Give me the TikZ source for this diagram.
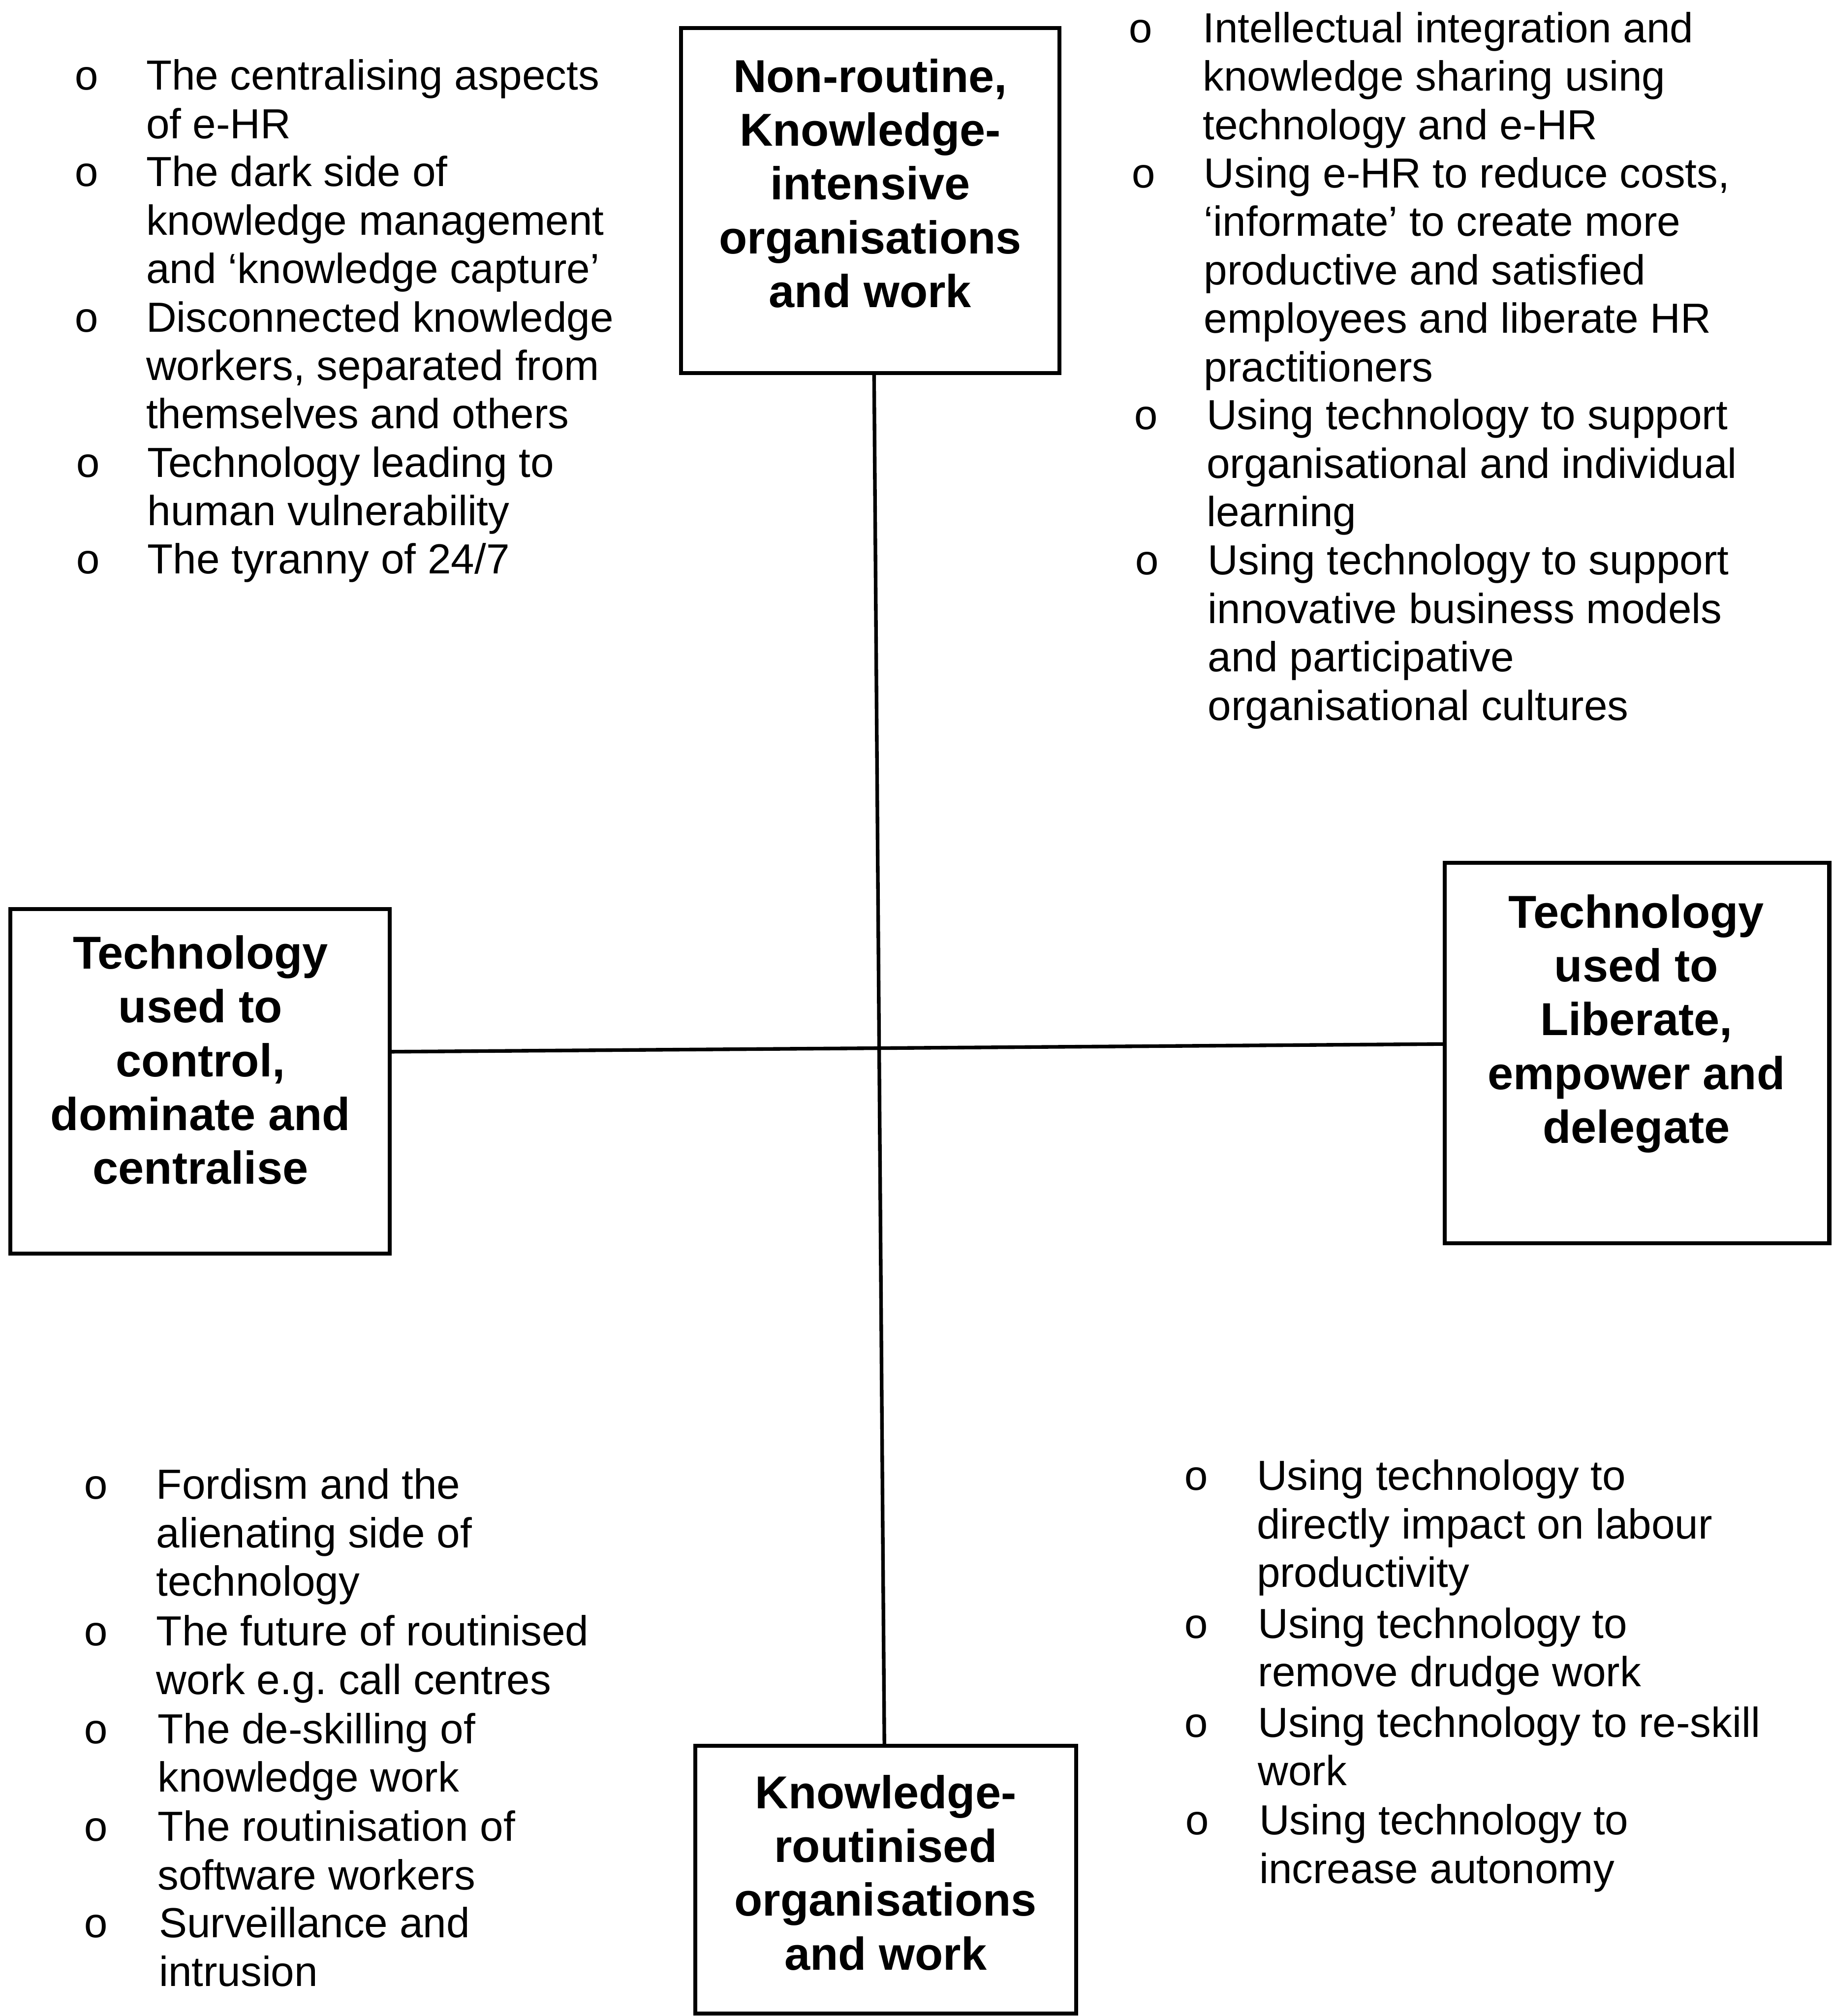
\documentclass[tikz,border=0pt]{standalone}
\usepackage{fontspec}
\setmainfont{Liberation Sans}
\newfontfamily\bulletfont{Liberation Mono}
\usetikzlibrary{calc}
\frenchspacing

\tikzset{
  box/.style={draw, line width=0.9pt, inner sep=0pt},
  boxtext/.style={font=\fontsize{10.2}{11.9}\selectfont\bfseries, align=center, anchor=base, inner sep=0pt},
  itm/.style={font=\fontsize{9.3}{10.72}\selectfont, align=left, anchor=base west, inner sep=0pt},
  bul/.style={font=\fontsize{9.3}{10.72}\selectfont\bulletfont, anchor=base west, inner sep=0pt},
  link/.style={line width=0.8pt},
}

% one bullet point: name, bullet x, text x, first baseline y, text, number of lines
% (a multi-line node's base anchor sits on its last line)
\newcommand\bitem[6]{%
  \node[bul] (#1b) at (#2,#4) {o};
  \node[itm] (#1) at ({#3},{#4+(#6-1)*37.7}) {#5};
}

\begin{document}
\begin{tikzpicture}[x=0.01cm,y=-0.01cm]
\useasboundingbox (0,0) rectangle (1425,1568);

% the four category boxes
\node[box, minimum width=2.94cm, minimum height=2.68cm] (top) at (677,156) {};
\node[box, minimum width=2.95cm, minimum height=2.68cm] (left) at (155.5,841) {};
\node[box, minimum width=2.99cm, minimum height=2.96cm] (right) at (1273.5,819) {};
\node[box, minimum width=2.96cm, minimum height=2.08cm] (bottom) at (689,1462) {};

% box captions, placed by the baseline of their last line
\node[boxtext] (toptxt) at (677,239) {Non-routine,\\Knowledge-\\intensive\\organisations\\and work};
\node[boxtext] (lefttxt) at (156,921) {Technology\\used to\\control,\\dominate and\\centralise};
\node[boxtext] (righttxt) at (1273,889) {Technology\\used to\\Liberate,\\empower and\\delegate};
\node[boxtext] (bottomtxt) at (689,1532) {Knowledge-\\routinised\\organisations\\and work};

% the two axes
\draw[link] ($(top.south)+(3,0)$) -- ($(bottom.north)+(-1,0)$);
\draw[link] ($(left.east)+(0,-23)$) -- ($(right.west)+(0,-7)$);

% upper left quadrant
\bitem{tl1}{57}{113}{70}{The centralising aspects\\of e-HR}{2}
\bitem{tl2}{57}{113}{145}{The dark side of\\knowledge management\\and ‘knowledge capture’}{3}
\bitem{tl3}{57}{113}{258}{Disconnected knowledge\\workers, separated from\\themselves and others}{3}
\bitem{tl4}{58}{114}{371}{Technology leading to\\human vulnerability}{2}
\bitem{tl5}{58}{114}{446}{The tyranny of 24/7}{1}

% upper right quadrant
\bitem{tr1}{877}{935}{33}{Intellectual integration and\\knowledge sharing using\\technology and e-HR}{3}
\bitem{tr2}{879}{936}{146}{Using e-HR to reduce costs,\\‘informate’ to create more\\productive and satisfied\\employees and liberate HR\\practitioners}{5}
\bitem{tr3}{881}{938}{334}{Using technology to support\\organisational and individual\\learning}{3}
\bitem{tr4}{882}{939}{447}{Using technology to support\\innovative business models\\and participative\\organisational cultures}{4}

% lower left quadrant
\bitem{bl1}{64}{121}{1166}{Fordism and the\\alienating side of\\technology}{3}
\bitem{bl2}{64}{121}{1280}{The future of routinised\\work e.g. call centres}{2}
\bitem{bl3}{64}{122}{1356}{The de-skilling of\\knowledge work}{2}
\bitem{bl4}{64}{122}{1432}{The routinisation of\\software workers}{2}
\bitem{bl5}{64}{123}{1507}{Surveillance and\\intrusion}{2}

% lower right quadrant
\bitem{br1}{920}{977}{1159}{Using technology to\\directly impact on labour\\productivity}{3}
\bitem{br2}{920}{978}{1274}{Using technology to\\remove drudge work}{2}
\bitem{br3}{920}{978}{1351}{Using technology to re-skill\\work}{2}
\bitem{br4}{921}{979}{1427}{Using technology to\\increase autonomy}{2}
\end{tikzpicture}
\end{document}
